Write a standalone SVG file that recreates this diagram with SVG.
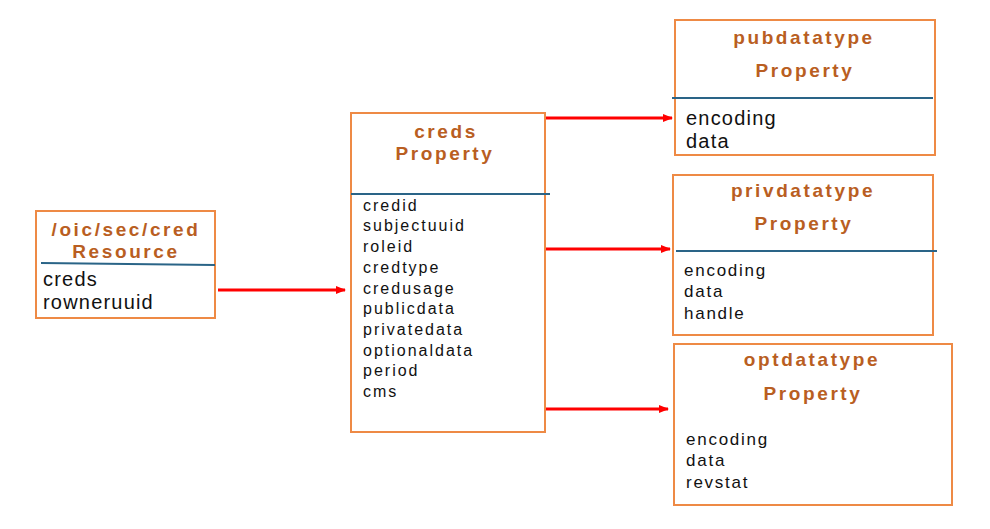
<svg xmlns="http://www.w3.org/2000/svg" width="990" height="529" viewBox="0 0 990 529">
<style>
.box{fill:#fff;stroke:#EE8A45;stroke-width:2}
.sep{stroke:#2A6487;stroke-width:2}
.title{font-family:"Liberation Sans",Arial,sans-serif;font-weight:bold;fill:#B95E22;text-anchor:middle;letter-spacing:2.6px}
.item{font-family:"Liberation Sans",Arial,sans-serif;fill:#111}
.big{font-size:20px;letter-spacing:1.2px}
.arrow{stroke:#F00;stroke-width:3;fill:none}
</style>
<defs>
<marker id="ah" viewBox="0 0 10 10" refX="9" refY="5" markerWidth="3.5" markerHeight="3.5" orient="auto" markerUnits="strokeWidth">
<path d="M0,1 L10,5 L0,9 z" fill="#F00"/>
</marker>
</defs>
<rect width="990" height="529" fill="#fff"/>
<g id="connectors">
<line class="arrow" x1="218" y1="290" x2="345" y2="290" marker-end="url(#ah)"/>
<line class="arrow" x1="540" y1="118" x2="672" y2="118" marker-end="url(#ah)"/>
<line class="arrow" x1="545" y1="249" x2="670" y2="249" marker-end="url(#ah)"/>
<line class="arrow" x1="545" y1="409" x2="668" y2="409" marker-end="url(#ah)"/>
</g>
<g id="cred-resource">
<rect class="box" x="36" y="211" width="179" height="107"/>
<text class="title" x="126" y="236" font-size="19">/oic/sec/cred</text>
<text class="title" x="126" y="258" font-size="19">Resource</text>
<line class="sep" x1="41" y1="263" x2="215" y2="265"/>
<text class="item big" x="43" y="286">creds</text>
<text class="item big" x="43" y="309">rowneruuid</text>
</g>
<g id="creds-property">
<rect class="box" x="351" y="113" width="194" height="319"/>
<text class="title" x="446" y="138" font-size="19">creds</text>
<text class="title" x="445" y="160" font-size="19">Property</text>
<line class="sep" x1="351" y1="194" x2="550" y2="194"/>
<g class="item" font-size="16" letter-spacing="2">
<text x="363" y="211">credid</text>
<text x="363" y="231">subjectuuid</text>
<text x="363" y="252">roleid</text>
<text x="363" y="273">credtype</text>
<text x="363" y="294">credusage</text>
<text x="363" y="314">publicdata</text>
<text x="363" y="335">privatedata</text>
<text x="363" y="356">optionaldata</text>
<text x="363" y="376">period</text>
<text x="363" y="397">cms</text>
</g>
</g>
<g id="pubdatatype">
<rect class="box" x="675" y="20" width="260" height="135"/>
<text class="title" x="804" y="44" font-size="19">pubdatatype</text>
<text class="title" x="805" y="77" font-size="19">Property</text>
<line class="sep" x1="672" y1="98" x2="933" y2="98"/>
<text class="item big" x="686" y="125">encoding</text>
<text class="item big" x="686" y="148">data</text>
</g>
<g id="privdatatype">
<rect class="box" x="673" y="175" width="260" height="160"/>
<text class="title" x="803" y="197" font-size="19">privdatatype</text>
<text class="title" x="804" y="230" font-size="19">Property</text>
<line class="sep" x1="676" y1="251" x2="937" y2="251"/>
<g class="item" font-size="17" letter-spacing="1.75">
<text x="684" y="276">encoding</text>
<text x="684" y="297">data</text>
<text x="684" y="319">handle</text>
</g>
</g>
<g id="optdatatype">
<rect class="box" x="674" y="344" width="278" height="161"/>
<text class="title" x="812" y="366" font-size="19">optdatatype</text>
<text class="title" x="813" y="400" font-size="19">Property</text>
<g class="item" font-size="17" letter-spacing="1.75">
<text x="686" y="445">encoding</text>
<text x="686" y="466">data</text>
<text x="686" y="488">revstat</text>
</g>
</g>
</svg>
